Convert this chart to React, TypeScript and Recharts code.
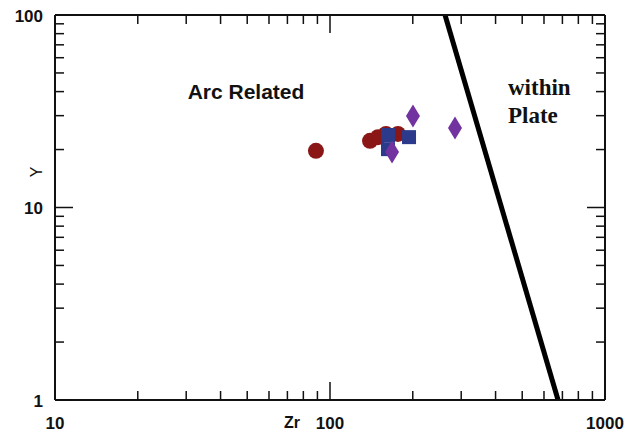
import { ScatterChart, Scatter, XAxis, YAxis, ReferenceLine, Customized } from 'recharts';

// Zr (ppm) vs Y (ppm) samples
const redCircles = [
  { x: 88.9, y: 19.7 },
  { x: 139.8, y: 22.2 },
  { x: 149.4, y: 23.2 },
  { x: 159.8, y: 24.1 },
  { x: 176.6, y: 24.1 },
];
const blueSquares = [
  { x: 162.5, y: 23.8 },
  { x: 162.5, y: 20.1 },
  { x: 193.8, y: 23.2 },
];
const purpleDiamonds = [
  { x: 200.3, y: 29.9 },
  { x: 284.8, y: 25.9 },
  { x: 168.1, y: 19.4 },
];
// arc / within-plate boundary
const boundary = [
  { x: 262, y: 100 },
  { x: 675, y: 1 },
];

const xTicks = [10, 20, 30, 40, 50, 60, 70, 80, 90, 100, 200, 300, 400, 500, 600, 700, 800, 900, 1000];
const yTicks = [1, 2, 3, 4, 5, 6, 7, 8, 9, 10, 20, 30, 40, 50, 60, 70, 80, 90, 100];
const xMajor = [10, 100, 1000];
const yMajor = [1, 10, 100];

const labelFont = { fontFamily: '"Liberation Sans", Arial, sans-serif', fontWeight: 700, fontSize: 17, fill: '#111' };

const AxisTick = ({ x, y, payload, side }: any) => {
  const v = payload.value;
  const major = side === 'bottom' || side === 'top' ? xMajor.includes(v) : yMajor.includes(v);
  const len = major ? 18 : 9;
  const s = { stroke: '#111', strokeWidth: 1.5 };
  if (side === 'bottom') {
    return (
      <g>
        <line x1={x} x2={x} y1={y} y2={y - len} {...s} />
        {major && (
          <text x={x} y={y + 23} textAnchor="middle" dominantBaseline="central" {...labelFont}>
            {v}
          </text>
        )}
      </g>
    );
  }
  if (side === 'top') return <line x1={x} x2={x} y1={y} y2={y + len} {...s} />;
  if (side === 'left') {
    return (
      <g>
        <line x1={x} x2={x + len} y1={y} y2={y} {...s} />
        {major && (
          <text x={x - 12} y={y + 1} textAnchor="end" dominantBaseline="central" {...labelFont}>
            {v}
          </text>
        )}
      </g>
    );
  }
  return <line x1={x} x2={x - len} y1={y} y2={y} {...s} />;
};

const Circle = ({ cx, cy }: any) => <circle cx={cx} cy={cy} r={8} fill="#8a1616" />;
const Square = ({ cx, cy }: any) => <rect x={cx - 7} y={cy - 7} width={14} height={14} fill="#2c3a8c" />;
const Diamond = ({ cx, cy }: any) => (
  <polygon points={`${cx},${cy - 11.5} ${cx + 7},${cy} ${cx},${cy + 11.5} ${cx - 7},${cy}`} fill="#7232a0" />
);

const Labels = () => (
  <g>
    <text x={292} y={422} textAnchor="middle" dominantBaseline="central"
      style={{ fontFamily: '"Liberation Sans", Arial, sans-serif', fontWeight: 700, fontSize: 16, fill: '#111' }}>
      Zr
    </text>
    <text x={36} y={172} textAnchor="middle" dominantBaseline="central" transform="rotate(-90 36 172)"
      style={{ fontFamily: '"Liberation Sans", Arial, sans-serif', fontSize: 16, fill: '#111' }}>
      Y
    </text>
    <text x={246} y={91} textAnchor="middle" dominantBaseline="central"
      style={{ fontFamily: '"Liberation Sans", Arial, sans-serif', fontWeight: 700, fontSize: 21, fill: '#111' }}>
      Arc Related
    </text>
    <text x={508} y={87} dominantBaseline="central"
      style={{ fontFamily: '"Liberation Serif", "Times New Roman", serif', fontWeight: 700, fontSize: 23, fill: '#111' }}>
      within
    </text>
    <text x={508} y={115} dominantBaseline="central"
      style={{ fontFamily: '"Liberation Serif", "Times New Roman", serif', fontWeight: 700, fontSize: 23, fill: '#111' }}>
      Plate
    </text>
  </g>
);

export default function App() {
  return (
    <div style={{ position: 'absolute', left: 0, top: 0, width: 636, height: 434, background: '#fff' }}>
      <ScatterChart width={636} height={434} margin={{ top: 10, right: 26, bottom: 4, left: 10 }}>
        <XAxis dataKey="x" type="number" scale="log" domain={[10, 1000]} ticks={xTicks} interval={0}
          height={30} tickSize={0} tickMargin={0} tickLine={false}
          axisLine={{ stroke: '#111', strokeWidth: 2 }}
          tick={(p: any) => <AxisTick {...p} side="bottom" />} />
        <XAxis xAxisId="top" orientation="top" dataKey="x" type="number" scale="log" domain={[10, 1000]}
          ticks={xTicks} interval={0} height={5} tickSize={0} tickMargin={0} tickLine={false}
          axisLine={{ stroke: '#111', strokeWidth: 2 }} allowDataOverflow
          tick={(p: any) => <AxisTick {...p} side="top" />} />
        <YAxis dataKey="y" type="number" scale="log" domain={[1, 100]} ticks={yTicks} interval={0}
          width={45} tickSize={0} tickMargin={0} tickLine={false}
          axisLine={{ stroke: '#111', strokeWidth: 2 }}
          tick={(p: any) => <AxisTick {...p} side="left" />} />
        <YAxis yAxisId="right" orientation="right" dataKey="y" type="number" scale="log" domain={[1, 100]}
          ticks={yTicks} interval={0} width={5} tickSize={0} tickMargin={0} tickLine={false}
          axisLine={{ stroke: '#111', strokeWidth: 2 }} allowDataOverflow
          tick={(p: any) => <AxisTick {...p} side="right" />} />
        <ReferenceLine segment={boundary} stroke="#000" strokeWidth={5} />
        <Scatter data={redCircles} shape={Circle} isAnimationActive={false} />
        <Scatter data={blueSquares} shape={Square} isAnimationActive={false} />
        <Scatter data={purpleDiamonds} shape={Diamond} isAnimationActive={false} />
        <Customized component={Labels} />
      </ScatterChart>
    </div>
  );
}
